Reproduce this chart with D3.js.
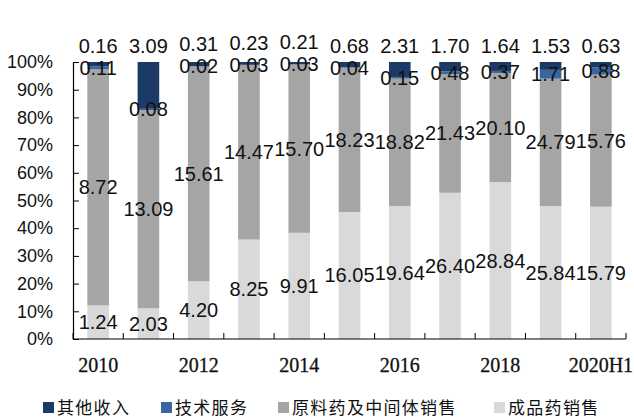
<!DOCTYPE html>
<html>
<head>
<meta charset="utf-8">
<script src="https://cdn.jsdelivr.net/npm/d3@7"></script>
<style>
  html, body { margin: 0; padding: 0; background: #fff; }
  svg { display: block; }
</style>
</head>
<body>
<svg id="chart" width="634" height="419"></svg>
<script>
// Revenue breakdown by business line (100% stacked)
const years = ["2010", "2011", "2012", "2013", "2014", "2015", "2016", "2017", "2018", "2019", "2020H1"];
const finishedDrugs = [1.24, 2.03, 4.20, 8.25, 9.91, 16.05, 19.64, 26.40, 28.84, 25.84, 15.79];   // 成品药销售
const apiIntermediates = [8.72, 13.09, 15.61, 14.47, 15.70, 18.23, 18.82, 21.43, 20.10, 24.79, 15.76]; // 原料药及中间体销售
const techServices = [0.11, 0.08, 0.02, 0.03, 0.03, 0.04, 0.15, 0.48, 0.37, 1.71, 0.88];      // 技术服务
const otherIncome = [0.16, 3.09, 0.31, 0.23, 0.21, 0.68, 2.31, 1.70, 1.64, 1.53, 0.63];       // 其他收入
const shownYearLabels = ["2010", "2012", "2014", "2016", "2018", "2020H1"];
const yTicks = [0, 0.1, 0.2, 0.3, 0.4, 0.5, 0.6, 0.7, 0.8, 0.9, 1.0];

const seriesDefs = [
  { key: "finished", name: "成品药销售", values: finishedDrugs, color: "#d9d9d9" },
  { key: "api", name: "原料药及中间体销售", values: apiIntermediates, color: "#a5a5a5" },
  { key: "tech", name: "技术服务", values: techServices, color: "#3a659e" },
  { key: "other", name: "其他收入", values: otherIncome, color: "#1b3a66" }
];
const legendOrder = ["other", "tech", "api", "finished"];

const rows = years.map((yr, i) => {
  const r = { year: yr };
  seriesDefs.forEach(s => { r[s.key] = s.values[i]; });
  return r;
});

const stacked = d3.stack()
  .keys(seriesDefs.map(s => s.key))
  .offset(d3.stackOffsetExpand)(rows);

const svg = d3.select("#chart");
const plotLeft = 73, plotRight = 626, plotTop = 62, plotBottom = 339;

const x = d3.scaleBand().domain(years).range([plotLeft, plotRight]).paddingInner(0.57).paddingOuter(0.285);
const xBand = d3.scaleBand().domain(years).range([plotLeft, plotRight]);
const y = d3.scaleLinear().domain([0, 1]).range([plotBottom, plotTop]);

const colorOf = k => seriesDefs.find(s => s.key === k).color;

// bars
const layers = svg.append("g").selectAll("g").data(stacked).join("g")
  .attr("fill", d => colorOf(d.key));
layers.selectAll("rect").data(d => d).join("rect")
  .attr("x", d => x(d.data.year))
  .attr("width", x.bandwidth())
  .attr("y", d => y(d[1]))
  .attr("height", d => y(d[0]) - y(d[1]));

// axes
const yAxis = d3.axisLeft(y).tickValues(yTicks).tickSize(-6).tickPadding(20)
  .tickFormat(d3.format(".0%"));
const gy = svg.append("g").attr("transform", `translate(${plotLeft},0)`).call(yAxis);
gy.select(".domain").attr("stroke", "#000").attr("stroke-width", 1.2);
gy.selectAll(".tick line").attr("stroke", "#000");
gy.selectAll("text").attr("font-family", "'Liberation Sans', Arial, sans-serif")
  .attr("font-size", 18).attr("fill", "#111");

const boundaries = years.map(yr => xBand(yr)).concat([plotRight]);
const gx = svg.append("g");
gx.append("line").attr("x1", plotLeft).attr("x2", plotRight).attr("y1", plotBottom).attr("y2", plotBottom)
  .attr("stroke", "#000").attr("stroke-width", 1.2);
gx.selectAll("line.tk").data(boundaries).join("line").attr("class", "tk")
  .attr("x1", d => d).attr("x2", d => d).attr("y1", plotBottom).attr("y2", plotBottom - 6)
  .attr("stroke", "#000");
gx.selectAll("text").data(shownYearLabels).join("text")
  .attr("x", d => xBand(d) + xBand.bandwidth() / 2)
  .attr("y", 372)
  .attr("text-anchor", "middle")
  .attr("font-family", "'Liberation Serif', 'Times New Roman', serif")
  .attr("font-size", 20)
  .attr("fill", "#111")
  .attr("stroke", "#111").attr("stroke-width", 0.3)
  .text(d => d);

// value labels: segment centres; "other income" sits above each bar,
// lifted clear of the technical-services label just below it
const labelFont = "'Liberation Sans', Arial, sans-serif";
const labels = svg.append("g").attr("font-family", labelFont).attr("font-size", 20)
  .attr("fill", "#111").attr("text-anchor", "middle");
const techLayer = stacked.find(l => l.key === "tech");
stacked.forEach(layer => {
  const isTop = layer.key === "other";
  layer.forEach((d, i) => {
    const cx = x(d.data.year) + x.bandwidth() / 2;
    let cy;
    if (isTop) {
      const t = techLayer[i];
      const techCy = (y(t[0]) + y(t[1])) / 2;
      cy = Math.min(y(1) - 16, techCy - 22);
    } else {
      cy = (y(d[0]) + y(d[1])) / 2;
    }
    labels.append("text")
      .attr("x", cx)
      .attr("y", cy)
      .attr("dy", "0.35em")
      .text(d3.format(".2f")(d.data[layer.key]));
  });
});

// legend
const legendX = [43, 161, 278, 494];
const legend = svg.append("g");
legendOrder.forEach((k, i) => {
  const s = seriesDefs.find(d => d.key === k);
  legend.append("rect").attr("x", legendX[i]).attr("y", 402).attr("width", 11).attr("height", 11)
    .attr("fill", s.color);
  legend.append("text").attr("x", legendX[i] + 14).attr("y", 408).attr("dy", "0.35em")
    .attr("font-family", "'Noto Sans CJK SC', sans-serif").attr("font-size", 17)
    .attr("letter-spacing", 1.3)
    .attr("fill", "#111").text(s.name);
});
</script>
</body>
</html>
